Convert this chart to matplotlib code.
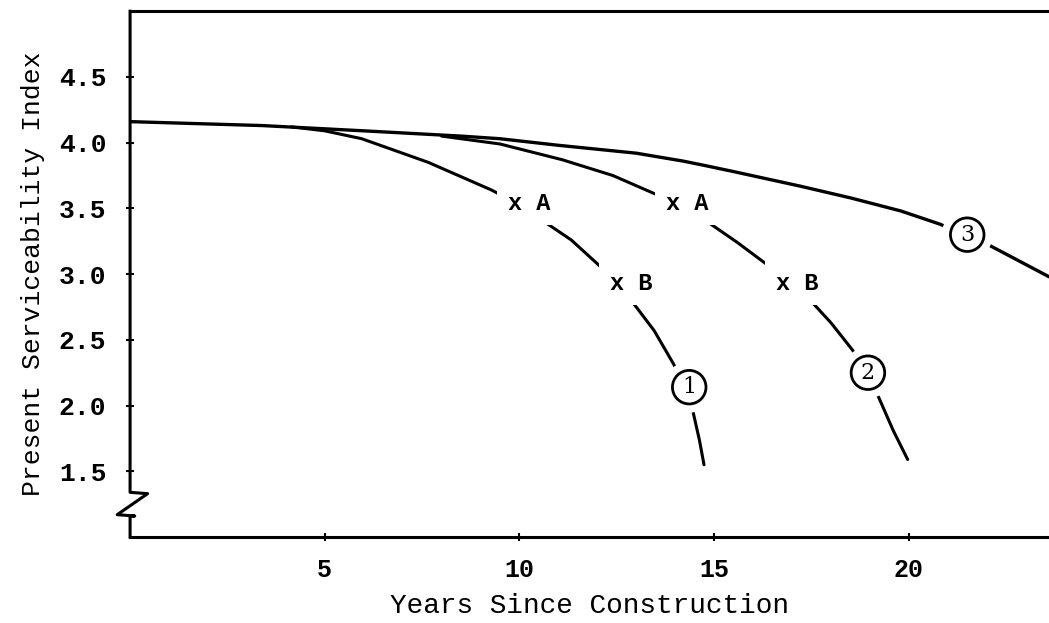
import matplotlib.pyplot as plt

# curva 3 (la de arriba, sigue hasta el borde derecho)
anos_3 = [0, 3.4, 6, 8.5, 9.5, 11, 13, 14.2, 14.7, 15.5, 17.2, 18.5, 19.8, 20.8, 22, 23.6]
psi_3 = [4.16, 4.13, 4.09, 4.05, 4.03, 3.98, 3.92, 3.86, 3.83, 3.78, 3.67, 3.58, 3.48, 3.38, 3.23, 2.98]

# curva 1
anos_1 = [4.15, 5.0, 5.95, 7.66, 9.28, 9.92, 10.38, 11.33, 12.18, 12.82, 13.46,
          13.97, 14.46, 14.62, 14.74]
psi_1 = [4.12, 4.09, 4.03, 3.85, 3.64, 3.54, 3.45, 3.26, 3.03, 2.82, 2.57,
         2.31, 1.95, 1.74, 1.55]

# curva 2
anos_2 = [8.0, 9.5, 11.1, 12.4, 13.56, 13.97, 14.67, 15.6, 16.46, 17.41, 18.0,
          18.56, 19.23, 19.6, 19.97]
psi_2 = [4.05, 3.99, 3.87, 3.75, 3.60, 3.54, 3.43, 3.24, 3.05, 2.82, 2.63,
         2.42, 2.06, 1.81, 1.59]

# puntos A y B de cada curva
puntos_x = [9.92, 12.54, 13.97, 16.8]
puntos_y = [3.54, 2.93, 3.54, 2.93]
puntos_txt = ['x A', 'x B', 'x A', 'x B']

# numeros de curva
num_x = [14.36, 18.95, 21.5]
num_y = [2.14, 2.25, 3.30]
num_txt = ['1', '2', '3']

xticks = [5, 10, 15, 20]
yticks = [1.5, 2.0, 2.5, 3.0, 3.5, 4.0, 4.5]

fuente = 'Liberation Mono'

fig = plt.figure(figsize=(10.49, 6.23), dpi=100)
ax = fig.add_axes([0.124, 0.138, 0.876, 0.844])

ax.plot(anos_3, psi_3, color='black', lw=2.4, solid_capstyle='round', solid_joinstyle='round')
ax.plot(anos_1, psi_1, color='black', lw=2.2, solid_capstyle='round', solid_joinstyle='round')
ax.plot(anos_2, psi_2, color='black', lw=2.2, solid_capstyle='round', solid_joinstyle='round')

# etiquetas x A / x B (fondo blanco para cortar la linea)
for px, py, t in zip(puntos_x, puntos_y, puntos_txt):
    ax.annotate(t, (px, py), xytext=(-6, 0), textcoords='offset points',
                ha='left', va='center', fontsize=17, fontweight='bold',
                family=fuente, zorder=5,
                bbox=dict(boxstyle='square,pad=0.45', fc='white', ec='none'))

# numeros en circulo
for px, py, t in zip(num_x, num_y, num_txt):
    ax.text(px, py, t, ha='center', va='center', fontsize=16,
            family='DejaVu Serif', zorder=6,
            bbox=dict(boxstyle='circle,pad=0.26', fc='white', ec='black', lw=2.0))
    ax.text(px, py, t, ha='center', va='center', fontsize=16, alpha=0,
            zorder=5, bbox=dict(boxstyle='circle,pad=0.7', fc='white', ec='none'))

ax.set_xlim(0, 23.6)
ax.set_ylim(1.0, 5.0)

ax.spines['right'].set_visible(False)
ax.spines['left'].set_visible(False)
ax.spines['top'].set_linewidth(2.2)
ax.spines['bottom'].set_linewidth(2.2)

# eje vertical con el quiebre en zigzag
eje_x = [0, 0, 0.45, -0.33, 0.12, 0, 0]
eje_y = [5.0, 1.34, 1.33, 1.17, 1.16, 1.16, 1.0]
ax.plot(eje_x, eje_y, color='black', lw=2.2, clip_on=False, zorder=4)

ax.set_xticks(xticks)
ax.set_xticklabels([str(v) for v in xticks], family=fuente, fontsize=18, fontweight='bold')
ax.set_yticks(yticks)
ax.set_yticklabels(['%.1f' % v for v in yticks], family=fuente, fontsize=19, fontweight='bold')
ax.tick_params(axis='x', direction='inout', length=6, width=1.5, pad=12)
ax.tick_params(axis='y', direction='inout', length=6, width=1.5, pad=14)

ax.set_xlabel('Years Since Construction', family=fuente, fontsize=20, labelpad=8)
ax.set_ylabel('Present Serviceability Index', family=fuente, fontsize=19, labelpad=10)

plt.savefig('out.png', dpi=100)
